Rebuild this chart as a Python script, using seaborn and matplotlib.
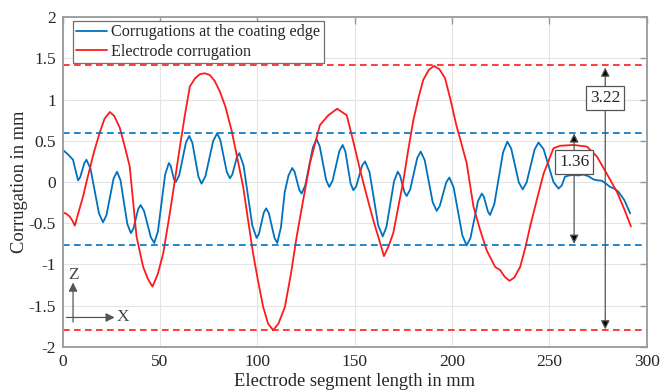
import numpy as np
import pandas as pd
import matplotlib
matplotlib.use("Agg")
import matplotlib.pyplot as plt
import seaborn as sns

# ---------------- data ----------------
edge_x = [0, 2.5, 5.3, 6.6, 7.9, 9.0, 10.05, 11.1, 12.2, 14.3, 16.45, 18.6, 20.7,
          22.5, 24.3, 26.1, 27.9, 29.7, 31.45, 33.2, 35, 36.25, 37.5, 38.75, 40,
          41.75, 43.5, 45.25, 47, 48.9, 50.75, 52.6, 54.5, 55.4, 56.3, 57.2, 58.1,
          59.8, 61.55, 63.3, 65, 66.6, 68.15, 69.7, 71.3, 73.3, 75.3, 77.3, 79.3,
          80.95, 82.6, 84.25, 85.9, 87.1, 88.3, 89.5, 90.7, 92.9, 95.15, 97.4, 99.6,
          100.8, 102.05, 103.3, 104.5, 105.9, 107.35, 108.8, 110.2, 112.1, 114.05, 116,
          117.9, 119.1, 120.3, 121.5, 122.7, 124.6, 126.55, 128.5, 130.4, 132, 133.65,
          135.3, 136.9, 138.6, 140.35, 142.1, 143.8, 145.2, 146.55, 147.9, 149.3,
          150.8, 152.3, 153.8, 155.3, 157.6, 159.85, 162.1, 164.4, 166.3, 168.25,
          170.2, 172.1, 173.25, 174.4, 175.55, 176.7, 178.5, 180.3, 182.1, 183.9,
          185.95, 188, 190.05, 192.1, 193.7, 195.35, 197, 198.6, 200.8, 203.05, 205.3,
          207.5, 209.45, 211.4, 213.35, 215.3, 216.35, 217.4, 218.45, 219.5, 221.7,
          223.95, 226.2, 228.4, 230.4, 232.35, 234.3, 236.3, 238.3, 240.35, 242.4,
          244.4, 247, 249.55, 252.1, 254.7, 256.4, 258, 260.2, 262.4, 265, 267.5,
          270.1, 272.7, 275, 277, 279.1, 281.2, 283.4, 285.5, 288.5, 291.5]
edge_y = [0.39, 0.34, 0.27, 0.14, 0.02, 0.06, 0.145, 0.23, 0.27, 0.16, -0.11, -0.38, -0.49,
          -0.40, -0.18, 0.04, 0.125, 0.02, -0.25, -0.51, -0.62, -0.57, -0.45, -0.33, -0.28,
          -0.35, -0.51, -0.67, -0.74, -0.60, -0.255, 0.09, 0.23, 0.20, 0.115, 0.03, 0.0,
          0.08, 0.28, 0.48, 0.56, 0.475, 0.27, 0.065, -0.02, 0.07, 0.285, 0.50, 0.59,
          0.51, 0.32, 0.125, 0.045, 0.09, 0.20, 0.305, 0.35, 0.20, -0.165, -0.53, -0.68,
          -0.63, -0.50, -0.37, -0.32, -0.38, -0.53, -0.68, -0.74, -0.55, -0.12, 0.08,
          0.17, 0.125, 0.015, -0.095, -0.14, -0.04, 0.19, 0.42, 0.52, 0.435, 0.23,
          0.025, -0.06, 0.015, 0.195, 0.375, 0.45, 0.37, 0.175, -0.02, -0.10,
          -0.05, 0.075, 0.20, 0.25, 0.12, -0.205, -0.53, -0.66, -0.545, -0.27,
          0.01, 0.125, 0.08, -0.02, -0.125, -0.17, -0.09, 0.10, 0.29, 0.37,
          0.265, 0.01, -0.245, -0.35, -0.29, -0.15, -0.005, 0.055, -0.065, -0.36, -0.65,
          -0.77, -0.68, -0.455, -0.23, -0.14, -0.18, -0.27, -0.36, -0.40, -0.27,
          0.045, 0.36, 0.49, 0.405, 0.20, -0.005, -0.09, -0.005, 0.195, 0.395,
          0.48, 0.40, 0.20, 0.0, -0.08, -0.04, 0.065, 0.08, 0.085, 0.08, 0.09,
          0.07, 0.03, 0.02, 0.015, -0.02, -0.06, -0.08, -0.12, -0.22, -0.38]

elec_x = [0, 1.8, 3.6, 5.0, 6.2, 8.2, 10.4, 12.2, 16.0, 19.0, 21.5, 24.2, 26.5, 29.3,
          32.0, 34.4, 37.9, 41.3, 43.8, 46.1, 48.8, 51.6, 55.0, 57.6, 60.2, 62.8,
          65.3, 68.0, 70.5, 73.0, 75.5, 78.0, 80.7, 83.5, 86.7, 89.7, 92.7, 95.2,
          97.8, 100.4, 103.0, 105.5, 108.1, 110.8, 114.1, 117.2, 120.2, 123.6, 127.0,
          132.1, 136.4, 141.0, 145.9, 149.3, 152.7, 156.1, 159.5, 162.4, 165.0,
          167.4, 169.8, 172.4, 175.0, 177.5, 180.1, 182.7, 185.2, 188.0, 190.7,
          193.5, 196.4, 199.4, 202.4, 204.1, 207.5, 211.0, 214.4, 217.8, 222.1,
          224.7, 227.0, 229.5, 232.0, 235.0, 237.6, 240.1, 243.6, 247.0, 252.1,
          255.5, 262.4, 269.3, 274.4, 279.5, 284.7, 288.3, 291.9]
elec_y = [-0.37, -0.385, -0.42, -0.47, -0.53, -0.36, -0.18, 0.0, 0.36, 0.60, 0.77, 0.85, 0.80, 0.66,
          0.42, 0.19, -0.66, -1.03, -1.18, -1.27, -1.12, -0.87, -0.38, 0.02, 0.43, 0.82,
          1.16, 1.26, 1.31, 1.32, 1.30, 1.23, 1.10, 0.92, 0.63, 0.29, -0.06, -0.46,
          -0.87, -1.21, -1.52, -1.72, -1.80, -1.72, -1.52, -1.12, -0.66, -0.21, 0.23,
          0.69, 0.81, 0.89, 0.81, 0.49, 0.15, -0.16, -0.46, -0.69, -0.90,
          -0.78, -0.62, -0.30, 0.02, 0.39, 0.75, 1.02, 1.24, 1.36, 1.41,
          1.37, 1.26, 0.98, 0.67, 0.53, 0.23, -0.30, -0.58, -0.83, -1.03,
          -1.07, -1.15, -1.20, -1.16, -1.03, -0.80, -0.54, -0.21, 0.10, 0.41,
          0.44, 0.45, 0.43, 0.31, 0.10, -0.12, -0.32, -0.54]

series_names = ["Corrugations at the coating edge", "Electrode corrugation"]
edge_limits = [0.60, -0.76]
elec_limits = [1.42, -1.80]
range_labels = ["1.36", "3.22"]
x_ticks = [0, 50, 100, 150, 200, 250, 300]
y_ticks = [2, 1.5, 1, 0.5, 0, -0.5, -1, -1.5, -2]
y_tick_labels = ["2", "1.5", "1", "0.5", "0", "-0.5", "-1", "-1.5", "-2"]

BLUE = "#0072BD"
RED = "#FF1A1A"

df = pd.concat([
    pd.DataFrame({"x": edge_x, "y": edge_y, "series": series_names[0]}),
    pd.DataFrame({"x": elec_x, "y": elec_y, "series": series_names[1]}),
], ignore_index=True)

# ---------------- style ----------------
sns.set_style("white")
plt.rcParams['font.family'] = ['Liberation Serif', 'DejaVu Serif']

fig = plt.figure(figsize=(6.61, 3.91), dpi=100)
ax = fig.add_axes([0.0949, 0.1133, 0.8835, 0.8424])

sns.lineplot(data=df, x="x", y="y", hue="series", palette=[BLUE, RED],
             sort=False, estimator=None, units="series", lw=1.3, ax=ax, legend=False)

for v in edge_limits:
    ax.axhline(v, color=BLUE, ls=(0, (4, 2.6)), lw=1.2)
for v in elec_limits:
    ax.axhline(v, color=RED, ls=(0, (4, 2.6)), lw=1.2)

ax.set_xlim(0, 300)
ax.set_ylim(-2, 2)
ax.set_xticks(x_ticks)
ax.set_xticklabels([str(t) for t in x_ticks])
ax.set_yticks(y_ticks)
ax.set_yticklabels(y_tick_labels)
ax.grid(True, color="#e4e4e4", lw=0.8)
ax.set_axisbelow(True)
for s in ax.spines.values():
    s.set_visible(True)
    s.set_color("#9a9a9a")
    s.set_linewidth(1.3)
ax.tick_params(direction="in", length=5, width=1.0, color="#9a9a9a",
               top=True, right=True, labelsize=12.5, labelcolor="#262626", pad=5)

ax.set_xlabel("Electrode segment length in mm", fontsize=13.3, color="#262626", labelpad=2.5)
ax.set_ylabel("Corrugation in mm", fontsize=13.3, color="#262626", labelpad=0.5)

# legend
from matplotlib.lines import Line2D
handles = [Line2D([], [], color=BLUE, lw=1.3), Line2D([], [], color=RED, lw=1.3)]
leg = ax.legend(handles, series_names, loc="upper left", bbox_to_anchor=(0.017, 0.988),
                borderaxespad=0, fancybox=False, framealpha=1, edgecolor="#707070",
                fontsize=11.6, handlelength=1.95, handletextpad=0.25, borderpad=0.2,
                labelspacing=0.2)
leg.get_frame().set_linewidth(0.9)

# range annotations (double arrows)
def double_arrow(x, top, bot, label, ly):
    ax.annotate("", xy=(x, top), xytext=(x, bot),
                arrowprops=dict(arrowstyle="<|-|>", fc="black", ec="#555555",
                                lw=0.9, mutation_scale=13, shrinkA=0, shrinkB=0))
    ax.text(x, ly, label, ha="center", va="center", fontsize=12.5, color="#262626",
            bbox=dict(boxstyle="square,pad=0.22", fc="white", ec="#555555", lw=0.9))

double_arrow(262.7, 0.59, -0.75, range_labels[0], 0.245)
double_arrow(278.7, 1.39, -1.79, range_labels[1], 1.02)

# coordinate system indicator
ax.annotate("", xy=(5.3, -1.22), xytext=(5.3, -1.70),
            arrowprops=dict(arrowstyle="-|>", fc="#555555", ec="#555555", lw=0.9,
                            mutation_scale=13, shrinkA=0, shrinkB=0))
ax.annotate("", xy=(26.7, -1.645), xytext=(1.9, -1.645),
            arrowprops=dict(arrowstyle="-|>", fc="#555555", ec="#555555", lw=0.9,
                            mutation_scale=13, shrinkA=0, shrinkB=0))
ax.text(5.7, -1.13, "Z", ha="center", va="center", fontsize=12.5, color="#444444")
ax.text(30.8, -1.645, "X", ha="center", va="center", fontsize=12.5, color="#444444")

fig.savefig("out.png", dpi=100)
